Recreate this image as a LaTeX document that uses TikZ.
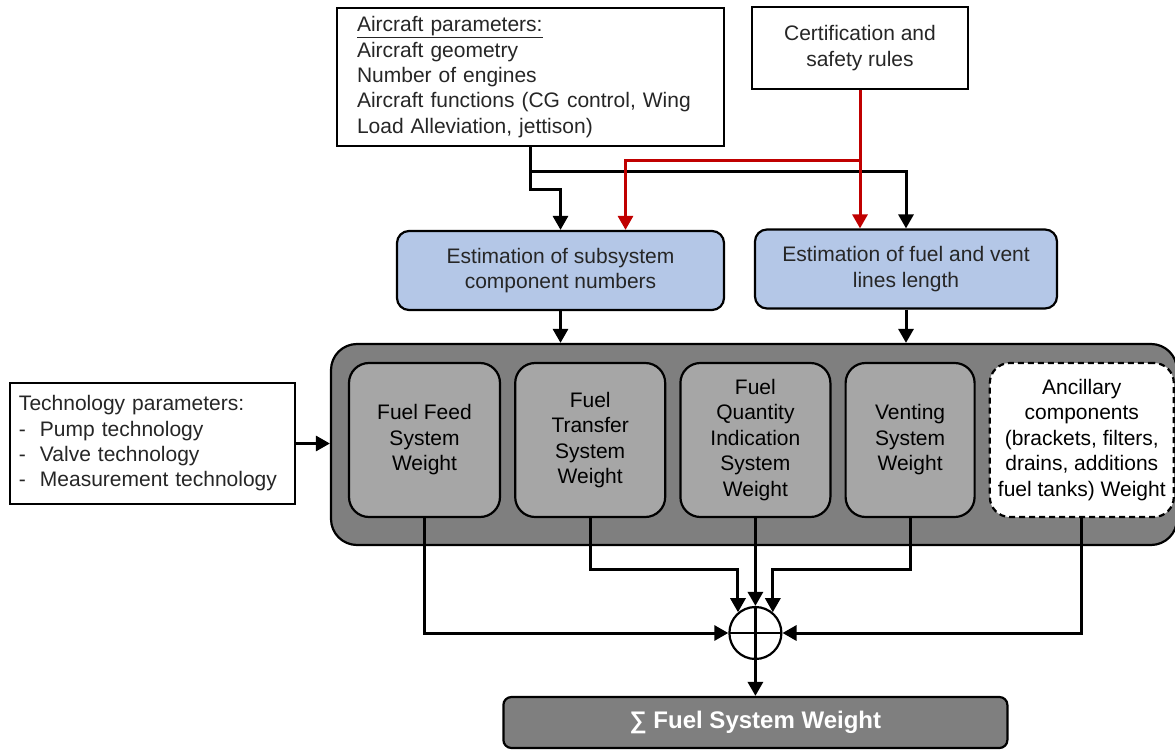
\documentclass[tikz,border=0pt]{standalone}
\usepackage{fontspec}
\setmainfont{Liberation Sans}
\usetikzlibrary{arrows.meta,positioning,calc}
\definecolor{estblue}{RGB}{180, 199, 231}
\definecolor{groupgray}{RGB}{127, 127, 127}
\definecolor{subgray}{RGB}{166, 166, 166}
\definecolor{rulered}{RGB}{192, 0, 0}
\tikzset{
 parambox/.style={
 rectangle,
 draw=black,
 fill=white,
 line width=2.2pt,
 align=left,
 text=black!85,
 font=\fontsize{21}{25.3}\selectfont
 },
 estbox/.style={
 rectangle,
 rounded corners=12pt,
 draw=black,
 fill=estblue,
 line width=2.2pt,
 align=center,
 minimum height=79pt,
 text=black!85,
 font=\fontsize{21}{25.3}\selectfont
 },
 groupbox/.style={
 rectangle,
 rounded corners=26pt,
 draw=black,
 fill=groupgray,
 line width=2.2pt,
 minimum height=201pt
 },
 subbox/.style={
 rectangle,
 rounded corners=20pt,
 draw=black,
 fill=subgray,
 line width=2.2pt,
 align=center,
 minimum height=154pt,
 inner xsep=2pt,
 font=\fontsize{21}{25.5}\selectfont
 },
 ancbox/.style={
 subbox,
 fill=white,
 dashed,
 dash pattern=on 6pt off 4pt
 },
 sumnode/.style={
 circle,
 draw=black,
 fill=white,
 line width=2.2pt,
 minimum size=52pt,
 inner sep=0pt,
 path picture={
 \draw[line width=2.2pt] (path picture bounding box.north) -- (path picture bounding box.south)
 (path picture bounding box.west) -- (path picture bounding box.east);
 }
 },
 totalbox/.style={
 rectangle,
 rounded corners=8pt,
 draw=black,
 fill=groupgray,
 line width=2.2pt,
 minimum width=504pt,
 minimum height=51pt,
 text=white,
 font=\fontsize{24}{28}\selectfont\bfseries
 },
 flowline/.style={line width=3pt, draw=black},
 flowarrow/.style={-{Triangle[length=14pt,width=15pt]}, line width=3pt, draw=black},
 redarrow/.style={-{Triangle[length=14pt,width=15pt]}, line width=3pt, draw=rulered}
}
\begin{document}
\begin{tikzpicture}[x=1pt, y=-1pt, node distance=13pt]
 \useasboundingbox (0,0) rectangle (1175,751);

 % inputs
 \node[parambox, inner xsep=20pt, text width=347pt, minimum height=138pt] (aircraft) at (530.5,77)
 {\underline{Aircraft parameters:}\\Aircraft geometry\\Number of engines\\Aircraft functions (CG control, Wing\\Load Alleviation, jettison)};
 \node[parambox, align=center, minimum width=216pt, minimum height=82pt] (cert) at (860,48)
 {Certification and\\safety rules};
 \node[parambox, inner xsep=9pt, text width=267pt, minimum height=121pt] (tech) at (152.5,443.5)
 {Technology parameters:\\-~ Pump technology\\-~ Valve technology\\-~ Measurement technology};

 % estimations
 \node[estbox, minimum width=327pt] (subsys) at (560.5,270.5) {Estimation of subsystem\\component numbers};
 \node[estbox, minimum width=302pt] (lines) at (906,269) {Estimation of fuel and vent\\lines length};

 % subsystem weights
 \node[groupbox, minimum width=846pt] (weights) at (754,444.5) {};
 \node[subbox, minimum width=151pt] (feed) at (424.5,440) {Fuel Feed\\System\\Weight};
 \node[subbox, minimum width=150pt, right=of feed] (transfer) {Fuel\\Transfer\\System\\Weight};
 \node[subbox, minimum width=150pt, right=of transfer] (quantity) {Fuel\\Quantity\\Indication\\System\\Weight};
 \node[subbox, minimum width=129pt, right=of quantity] (venting) {Venting\\System\\Weight};
 \node[ancbox, minimum width=184pt, right=of venting] (ancillary) {Ancillary\\components\\(brackets, filters,\\drains, additions\\fuel tanks) Weight};

 \node[sumnode] (sum) at (quantity.south |- 0,633) {};
 \node[totalbox] (total) at (sum |- 0,722.5) {∑ Fuel System Weight};

 \coordinate (split) at (530.5,172);
 \coordinate (redsplit) at (860,161);

 \draw[flowline] (aircraft.south) -- (split);
 \draw[flowarrow] (split) -| (lines.north);
 \draw[flowarrow] (split) -- ++(0,18) -| (subsys.north);
 \draw[redarrow] (cert.south) -- (cert.south |- lines.north);
 \draw[redarrow] (redsplit) -| ($(subsys.north)+(65,0)$);

 \draw[flowarrow] (subsys.south) -- (subsys.south |- weights.north);
 \draw[flowarrow] (lines.south) -- (lines.south |- weights.north);
 \draw[flowarrow] (tech.east) -- (tech.east -| weights.west);

 \draw[flowarrow] (feed.south) |- (sum.west);
 \draw[flowarrow] (transfer.south) -- ++(0,51) -| (sum.130);
 \draw[flowarrow] (quantity.south) -- (sum.north);
 \draw[flowarrow] (venting.south) -- ++(0,51) -| (sum.50);
 \draw[flowarrow] (ancillary.south) |- (sum.east);
 \draw[flowarrow] (sum.south) -- (total.north);
\end{tikzpicture}
\end{document}
